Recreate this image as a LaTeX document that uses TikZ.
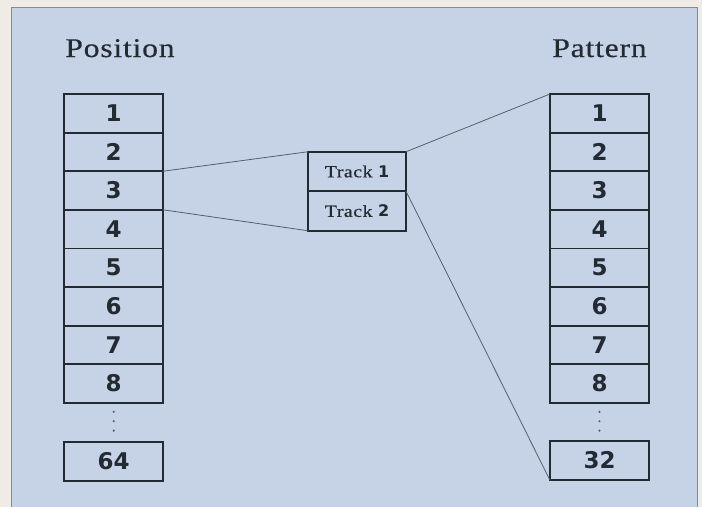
\documentclass[tikz,border=0pt]{standalone}
\usepackage{fontspec}
\newfontfamily\labelfont[FakeStretch=1.17,LetterSpace=3,FakeBold=0.4]{Liberation Serif}
\newfontfamily\numfont{DejaVu Sans}
\definecolor{paper}{RGB}{238,236,228}
\definecolor{panel}{RGB}{198,211,231}
\definecolor{ink}{RGB}{34,42,52}
\definecolor{wire}{RGB}{84,94,108}
\newcommand{\tracknum}[1]{{\numfont\bfseries\fontsize{16}{16}\selectfont #1}}
\tikzset{
  cell/.style={draw=ink,line width=1.8pt,minimum width=99pt,minimum height=38.6pt,
    inner sep=0pt,outer sep=0pt,text=ink,font=\numfont\bfseries\fontsize{23}{23}\selectfont},
  trackcell/.style={cell,line width=1.6pt,minimum width=98pt,minimum height=39.5pt,
    font=\labelfont\fontsize{17}{17}\selectfont},
  title/.style={text=ink,anchor=base,inner sep=0pt,font=\labelfont\fontsize{27}{27}\selectfont},
  wire/.style={draw=wire,line width=0.8pt},
  vdots/.style={draw=ink!75,line width=2.4pt,line cap=round,
    dash pattern=on 0pt off 9.4pt,shorten <=9pt,shorten >=9pt}
}
\begin{document}
\begin{tikzpicture}[x=1pt,y=-1pt]
\useasboundingbox (0,0) rectangle (702,507);
\fill [paper] (0,0) rectangle (702,507);
\fill [panel] (11,7) rectangle (697,507);
\draw [ink!55,line width=0.6pt] (11,507) -- (11,7) -- (697,7) -- (697,507);

% headings
\node [title] (postitle) at (120,57) {Position};
\node [title] (pattitle) at (599.5,57) {Pattern};

% the two columns
\foreach \i in {1,...,8} {
  \node [cell] (pos\i) at (113.7,{94+38.6*(\i-0.5)}) {\i};
  \node [cell] (pat\i) at (599.5,{94+38.6*(\i-0.5)}) {\i};
}
\node [cell,minimum height=39.5pt] (pos64) at (113.7,461.5) {64};
\node [cell,minimum height=39.5pt] (pat32) at (599.5,460.5) {32};
\draw [vdots] (pos8.south) -- (pos64.north);
\draw [vdots] (pat8.south) -- (pat32.north);

% tracks
\node [trackcell] (trk1) at (357,171.5) {Track \tracknum{1}};
\node [trackcell] (trk2) at (357,211) {Track \tracknum{2}};

\draw [wire] (pos2.south east) -- (trk1.north west);
\draw [wire] (pos3.south east) -- (trk2.south west);
\draw [wire] (trk1.north east) -- (pat1.north west);
\draw [wire] (trk1.south east) -- (pat32.south west);
\end{tikzpicture}
\end{document}
